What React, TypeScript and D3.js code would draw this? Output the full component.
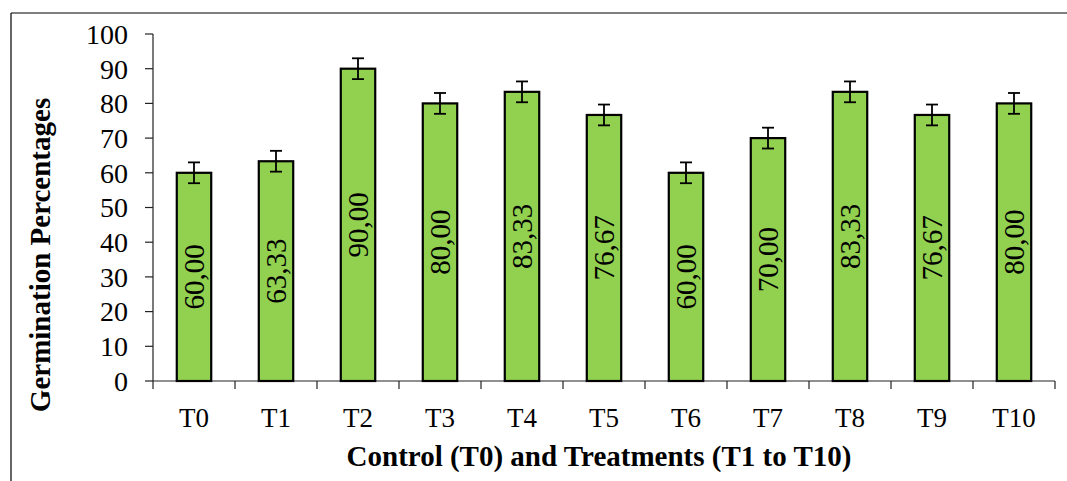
import React from "react";
import * as d3 from "d3";

const categories = ["T0", "T1", "T2", "T3", "T4", "T5", "T6", "T7", "T8", "T9", "T10"];
const values = [60.0, 63.33, 90.0, 80.0, 83.33, 76.67, 60.0, 70.0, 83.33, 76.67, 80.0];
const errors = [3, 3, 3, 3, 3, 3, 3, 3, 3, 3, 3];
const yTicks = [0, 10, 20, 30, 40, 50, 60, 70, 80, 90, 100];

export default function App() {
  const W = 1067, H = 481;
  const x = d3.scaleBand<string>().domain(categories).range([153, 1055]).paddingInner(0).paddingOuter(0);
  const y = d3.scaleLinear().domain([0, 100]).range([381, 34]);
  const bw = x.bandwidth() * 0.42;
  const font = "'Liberation Serif', 'Times New Roman', serif";
  const fmt = (v: number) => v.toFixed(2).replace(".", ",");
  return (
    <svg width={W} height={H} style={{ position: "absolute", left: 0, top: 0, background: "#fff" }}>
      <line x1={11} y1={13} x2={W} y2={13} stroke="#000" strokeWidth={1.2} />
      <line x1={11} y1={13} x2={11} y2={H} stroke="#000" strokeWidth={1.2} />
      {/* y axis */}
      <line x1={153} y1={y(100)} x2={153} y2={y(0)} stroke="#222" strokeWidth={1.2} />
      {yTicks.map((t) => (
        <g key={t}>
          <line x1={145} x2={153} y1={y(t)} y2={y(t)} stroke="#222" strokeWidth={1.2} />
          <text x={128} y={y(t)} dy="0.35em" textAnchor="end" fontFamily={font} fontSize={28} fill="#000">{t}</text>
        </g>
      ))}
      {/* x axis */}
      <line x1={153} y1={y(0)} x2={1055} y2={y(0)} stroke="#222" strokeWidth={1.2} />
      {categories.map((c, i) => (
        <line key={"t" + c} x1={153 + i * x.step()} x2={153 + i * x.step()} y1={y(0)} y2={y(0) + 8} stroke="#222" strokeWidth={1.2} />
      )).concat([
        <line key="tlast" x1={1055} x2={1055} y1={y(0)} y2={y(0) + 8} stroke="#222" strokeWidth={1.2} />,
      ])}
      {categories.map((c) => (
        <text key={"l" + c} x={(x(c) as number) + x.bandwidth() / 2} y={427} textAnchor="middle" fontFamily={font} fontSize={27} fill="#000">{c}</text>
      ))}
      {/* bars */}
      {categories.map((c, i) => {
        const cx = (x(c) as number) + x.bandwidth() / 2;
        const v = values[i];
        const e = errors[i];
        const mid = (y(v) + y(0)) / 2;
        return (
          <g key={"b" + c}>
            <rect x={cx - bw / 2} y={y(v)} width={bw} height={y(0) - y(v)} fill="#92D050" stroke="#000" strokeWidth={2.2} />
            <line x1={cx} x2={cx} y1={y(v + e)} y2={y(v - e)} stroke="#000" strokeWidth={1.8} />
            <line x1={cx - 6} x2={cx + 6} y1={y(v + e)} y2={y(v + e)} stroke="#000" strokeWidth={1.8} />
            <line x1={cx - 6} x2={cx + 6} y1={y(v - e)} y2={y(v - e)} stroke="#000" strokeWidth={1.8} />
            <text transform={`translate(${cx},${mid}) rotate(-90)`} dy="0.35em" textAnchor="middle" fontFamily={font} fontSize={29} fill="#000">{fmt(v)}</text>
          </g>
        );
      })}
      <text transform={`translate(50,255) rotate(-90)`} textAnchor="middle" fontFamily={font} fontSize={29} fontWeight="bold" fill="#000">Germination Percentages</text>
      <text x={599} y={466} textAnchor="middle" fontFamily={font} fontSize={29} fontWeight="bold" fill="#000">Control (T0) and Treatments (T1 to T10)</text>
    </svg>
  );
}
